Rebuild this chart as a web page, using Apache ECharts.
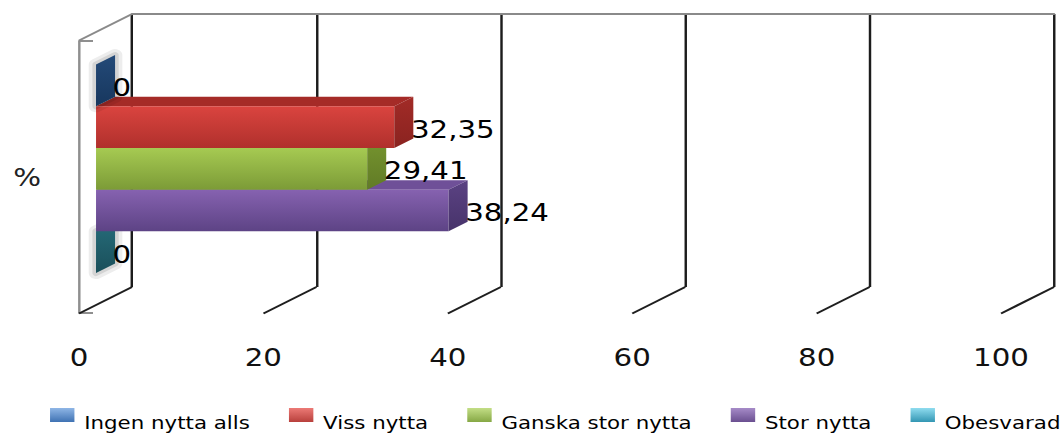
<!DOCTYPE html>
<html>
<head>
<meta charset="utf-8">
<script src="https://cdn.jsdelivr.net/npm/echarts@6/dist/echarts.min.js"></script>
<style>
  html, body { margin: 0; padding: 0; background: #ffffff; overflow: hidden; }
  #main { width: 872px; height: 434px; transform: scaleX(1.2202); transform-origin: 0 0; }
</style>
</head>
<body>
<div id="main"></div>
<script>
// ---- data ----
const categories = ['%'];
const seriesNames = ['Ingen nytta alls', 'Viss nytta', 'Ganska stor nytta', 'Stor nytta', 'Obesvarad'];
const seriesValues = [0, 32.35, 29.41, 38.24, 0];
const tickValues = [0, 20, 40, 60, 80, 100];

// ---- style ----
const FONT = '"DejaVu Sans", Verdana, sans-serif';
const BAR_RATIO = 0.1527;          // bar thickness as share of the category band
const BAR_DEPTH = [15.6, -9.5];    // 3D depth of each bar
const FLOOR_DEPTH = [-43.4, 26.5]; // from back wall to front edge
const legendColors = [
  ['#8fb6e6', '#3f72b3'],
  ['#ec7a76', '#b8403c'],
  ['#c3de86', '#86a845'],
  ['#a68bc8', '#6a4f90'],
  ['#8fdcef', '#3396b3']
];
const faceColors = [
  { front: ['#4f81bd', '#385d8a'], top: '#6d95c8', side: ['#244a78', '#17375e'] },
  { front: ['#da443f', '#b0302c'], top: '#a52b27', side: ['#a22b27', '#8a2320'] },
  { front: ['#a6ca52', '#7c9b37'], top: '#8cad42', side: ['#76952f', '#617b26'] },
  { front: ['#8662b0', '#5d4385'], top: '#6f5098', side: ['#5b4283', '#47336a'] },
  { front: ['#4bacc6', '#31859c'], top: '#62b8cf', side: ['#266c7a', '#1a4f5a'] }
];
const grad = (c) => new echarts.graphic.LinearGradient(0, 0, 0, 1, [
  { offset: 0, color: c[0] }, { offset: 1, color: c[1] }
]);
const fmt = (v) => v === 0 ? '0' : String(v).replace('.', ',');

function barRenderer(i) {
  return function (params, api) {
    const v = api.value(0);
    const p0 = api.coord([0, 0]);
    const p1 = api.coord([v, 0]);
    const band = api.size([0, 1])[1];
    const h = band * BAR_RATIO;
    const top = p0[1] - 2.5 * h + i * h;
    const bot = top + h;
    const x0 = p0[0], x1 = p1[0];
    const dx = BAR_DEPTH[0], dy = BAR_DEPTH[1];
    const c = faceColors[i];
    const flat = (x1 - x0) < 0.5;
    const children = [];
    if (flat) {
      // soft halo around the zero-length slab
      children.push({ type: 'polygon', shape: { points: [[x1, top], [x1 + dx, top + dy], [x1 + dx, bot + dy], [x1, bot]] },
        style: { fill: 'none', stroke: 'rgba(0,0,0,0.07)', lineWidth: 12, lineJoin: 'round' } });
      children.push({ type: 'polygon', shape: { points: [[x1, top], [x1 + dx, top + dy], [x1 + dx, bot + dy], [x1, bot]] },
        style: { fill: 'none', stroke: 'rgba(0,0,0,0.10)', lineWidth: 6, lineJoin: 'round' } });
    } else {
      children.push({ type: 'polygon', shape: { points: [[x0, top], [x0 + dx, top + dy], [x1 + dx, top + dy], [x1, top]] },
        style: { fill: c.top } });
      children.push({ type: 'rect', shape: { x: x0, y: top, width: x1 - x0, height: h },
        style: { fill: grad(c.front) } });
    }
    children.push({ type: 'polygon', shape: { points: [[x1, top], [x1 + dx, top + dy], [x1 + dx, bot + dy], [x1, bot]] },
      style: { fill: grad(c.side) } });
    children.push({ type: 'text', style: { text: fmt(v), x: x1 + dx - 2, y: (top + bot) / 2 + 2,
      fill: '#000', fontSize: 24, fontFamily: FONT, align: 'left', verticalAlign: 'middle' } });
    return { type: 'group', children: children };
  };
}

const chart = echarts.init(document.getElementById('main'), null, { renderer: 'svg' });

const barSeries = seriesNames.map((name, i) => ({
  name: name,
  type: 'custom',
  xAxisIndex: 0,
  yAxisIndex: 0,
  z: 10 - i,
  itemStyle: { color: legendColors[i][1] },
  renderItem: barRenderer(i),
  data: [[seriesValues[i], 0]]
}));

const option = {
  backgroundColor: '#ffffff',
  animation: false,
  grid: [
    { left: 78.7, right: 37.7, top: 32.3, bottom: 128.7 },  // bar plane
    { left: 108.2, right: 8.2, top: 14, bottom: 147 },      // back wall
    { left: 64.7, right: 51.6, top: 41, bottom: 121 }       // front edge
  ],
  xAxis: [
    { gridIndex: 0, type: 'value', min: 0, max: 100, show: false },
    { gridIndex: 1, type: 'value', min: 0, max: 100, interval: 20,
      axisLine: { show: false }, axisTick: { show: false }, axisLabel: { show: false },
      splitLine: { show: true, lineStyle: { color: '#1c1c1c', width: 2 } } },
    { gridIndex: 1, type: 'value', min: 0, max: 100, position: 'top',
      axisLine: { show: true, lineStyle: { color: '#8a8a8a', width: 2 } },
      axisTick: { show: false }, axisLabel: { show: false }, splitLine: { show: false } },
    { gridIndex: 2, type: 'value', min: 0, max: 100, interval: 20,
      axisLine: { show: false }, axisTick: { show: false }, splitLine: { show: false },
      axisLabel: { show: true, margin: 32, fontSize: 24, fontFamily: FONT, color: '#111' } }
  ],
  yAxis: [
    { gridIndex: 0, type: 'category', data: categories, show: false },
    { gridIndex: 1, type: 'value', min: 0, max: 1, show: false },
    { gridIndex: 2, type: 'category', data: categories,
      axisLine: { show: true, lineStyle: { color: '#8f8f8f', width: 2 } },
      axisTick: { show: true, inside: true, length: 11.5, lineStyle: { color: '#8f8f8f', width: 2 } },
      axisLabel: { margin: 31, fontSize: 24, fontFamily: FONT, color: '#222' },
      splitLine: { show: false } }
  ],
  legend: {
    left: 41,
    top: 408,
    width: 1000,
    padding: 0,
    itemWidth: 20,
    itemHeight: 14,
    itemGap: 32,
    icon: 'rect',
    data: seriesNames.map((n, i) => ({ name: n, itemStyle: { color: grad(legendColors[i]) } })),
    formatter: (name) => '{t|' + name + '}',
    textStyle: {
      fontSize: 17.5, fontFamily: FONT, color: '#000',
      rich: { t: { fontSize: 17.5, fontFamily: FONT, color: '#000', padding: [16, 0, 0, 3] } }
    }
  },
  series: [
    {
      type: 'custom',
      name: 'floor',
      xAxisIndex: 1,
      yAxisIndex: 1,
      z: 3,
      silent: true,
      renderItem: function (params, api) {
        const p = api.coord([api.value(0), 0]);
        return { type: 'line', shape: { x1: p[0], y1: p[1], x2: p[0] + FLOOR_DEPTH[0], y2: p[1] + FLOOR_DEPTH[1] },
          style: { stroke: '#1e1e1e', lineWidth: 2 } };
      },
      data: tickValues.map(v => [v])
    },
    {
      type: 'custom',
      name: 'wall',
      xAxisIndex: 1,
      yAxisIndex: 1,
      z: 3,
      silent: true,
      renderItem: function (params, api) {
        const p = api.coord([api.value(0), 1]);
        return { type: 'line', shape: { x1: p[0], y1: p[1], x2: p[0] + FLOOR_DEPTH[0], y2: p[1] + FLOOR_DEPTH[1] },
          style: { stroke: '#8a8a8a', lineWidth: 2 } };
      },
      data: [[tickValues[0]]]
    }
  ].concat(barSeries)
};
chart.setOption(option);
</script>
</body>
</html>
